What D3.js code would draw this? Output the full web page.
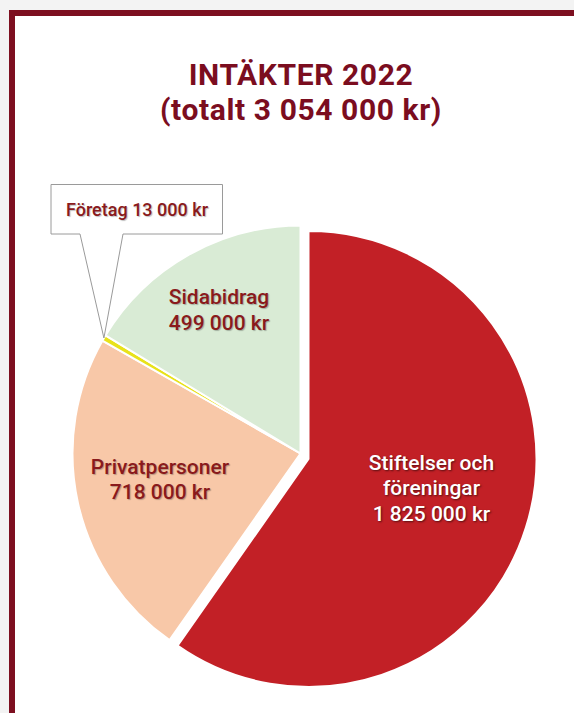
<!DOCTYPE html>
<html>
<head>
  <meta charset="utf-8" />
  <title>Intäkter 2022</title>
  <script src="https://cdnjs.cloudflare.com/ajax/libs/d3/7.8.5/d3.min.js"></script>
  <style>
    html, body { margin: 0; padding: 0; background: #f3f3f3; }
    svg { display: block; }
    .title { font-family: Roboto, "Liberation Sans", sans-serif; font-weight: 700; fill: #7b0d1f; letter-spacing: 0.6px; }
    .lbl { font-family: Roboto, "Liberation Sans", sans-serif; font-size: 21px; font-weight: 500; }
    .lbl.dark { fill: #8a1a1c; text-shadow: 1px 1px 1px rgba(0,0,0,0.25); }
    .lbl.light { fill: #fff; text-shadow: 1px 1px 2px rgba(0,0,0,0.55); }
  </style>
</head>
<body>
<div id="chart"></div>
<script>
  // data
  var categories = ["Stiftelser och föreningar", "Privatpersoner", "Företag", "Sidabidrag"];
  var values = [1825000, 718000, 13000, 499000];
  var colors = ["#c22026", "#f8c8a8", "#e8e21a", "#d9ebd5"];
  var titleLines = ["INTÄKTER 2022", "(totalt 3 054 000 kr)"];
  var labelLines = [
    ["Stiftelser och", "föreningar", "1 825 000 kr"],
    ["Privatpersoner", "718 000 kr"],
    ["Företag 13 000 kr"],
    ["Sidabidrag", "499 000 kr"]
  ];

  var width = 574, height = 713;
  var cx = 300.5, cy = 453.5, radius = 228;

  var svg = d3.select("#chart")
    .append("svg")
    .attr("width", width)
    .attr("height", height);

  // frame
  svg.append("rect")
    .attr("x", 12).attr("y", 13)
    .attr("width", width).attr("height", height)
    .attr("fill", "#fff")
    .attr("stroke", "#7d0f20")
    .attr("stroke-width", 6);

  // title
  svg.selectAll(".title")
    .data(titleLines)
    .enter().append("text")
    .attr("class", "title")
    .attr("x", 301)
    .attr("y", function(d, i) { return 85 + i * 35; })
    .attr("text-anchor", "middle")
    .attr("font-size", 30)
    .text(function(d) { return d; });

  var pie = d3.pie().sort(null).startAngle(0).endAngle(2 * Math.PI);
  var arcs = pie(values);

  var arc = d3.arc().innerRadius(0).outerRadius(radius);

  // only the first slice is pulled out
  var explode = [[8, 5.5], [0, 0], [0, 0], [0, 0]];

  var g = svg.append("g")
    .attr("transform", "translate(" + cx + "," + cy + ")");

  g.selectAll(".slice")
    .data(arcs)
    .enter().append("path")
    .attr("class", "slice")
    .attr("d", arc)
    .attr("transform", function(d, i) { return "translate(" + explode[i][0] + "," + explode[i][1] + ")"; })
    .attr("fill", function(d, i) { return colors[i]; })
    .attr("stroke", "#fff")
    .attr("stroke-width", 2)
    .attr("stroke-linejoin", "round");

  // callout for the small slice
  var small = arcs[2];
  var mid = (small.startAngle + small.endAngle) / 2;
  var tip = [cx + radius * Math.sin(mid), cy - radius * Math.cos(mid)];
  var box = { x0: 51, y0: 184.5, x1: 222.5, y1: 234, p0: 80, p1: 123 };

  svg.append("path")
    .attr("d", "M" + box.x0 + "," + box.y0 + "H" + box.x1 + "V" + box.y1 +
      "H" + box.p1 + "L" + tip[0] + "," + tip[1] + "L" + box.p0 + "," + box.y1 +
      "H" + box.x0 + "Z")
    .attr("fill", "#fff")
    .attr("stroke", "#9a9a9a")
    .attr("stroke-width", 1);

  // label anchors (centre of first baseline)
  var labelPos = [[431.5, 469.5], [160, 473.5], [137, 215.5], [219, 304]];

  labelLines.forEach(function(lines, i) {
    var t = svg.append("text")
      .attr("class", "lbl " + (i === 0 ? "light" : "dark"))
      .attr("text-anchor", "middle");
    if (i === 2) t.style("font-size", "18px");
    lines.forEach(function(line, j) {
      t.append("tspan")
        .attr("x", labelPos[i][0])
        .attr("y", labelPos[i][1] + j * 25.5)
        .text(line);
    });
  });
</script>
</body>
</html>
